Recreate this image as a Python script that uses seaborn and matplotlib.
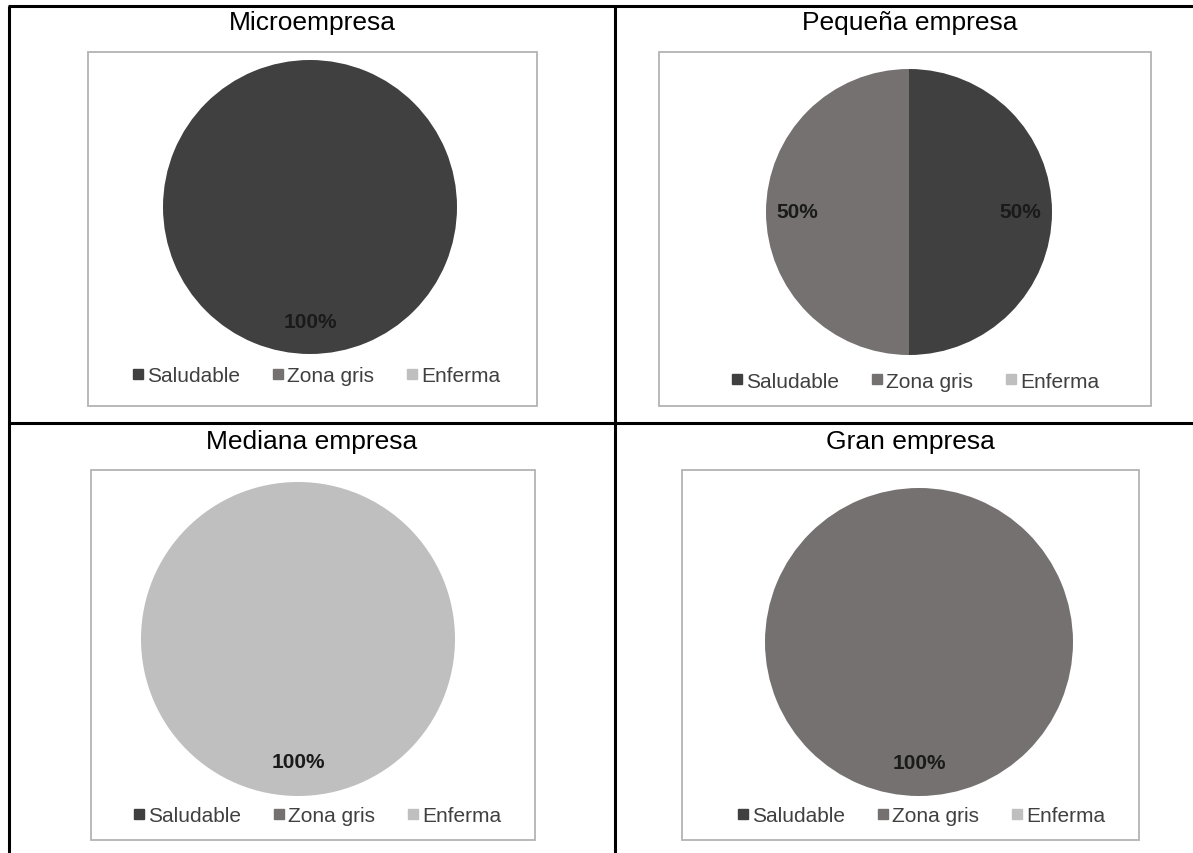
import matplotlib
matplotlib.use("Agg")
import matplotlib.pyplot as plt
from matplotlib.lines import Line2D
from matplotlib.patches import Rectangle
import pandas as pd
import seaborn as sns

# data (percent of firms per health state)
companies = ["Microempresa", "Pequeña empresa", "Mediana empresa", "Gran empresa"]
states = ["Saludable", "Zona gris", "Enferma"]
saludable = [100, 50, 0, 0]
zona_gris = [0, 50, 0, 100]
enferma = [0, 0, 100, 0]

df = pd.DataFrame({"Saludable": saludable, "Zona gris": zona_gris, "Enferma": enferma},
                  index=companies)

sns.set_theme(style="white")
plt.rcParams["font.family"] = ["Liberation Sans", "DejaVu Sans"]
palette = sns.color_palette(["#404040", "#767171", "#bfbfbf"])

W, H = 1193, 854
fig = plt.figure(figsize=(W / 100, H / 100), dpi=100)
fig.patch.set_facecolor("white")


def fx(x):
    return x / W


def fy(y):
    return 1 - y / H


# layout per cell: title pos, panel box, pie centre/radius, legend pos
cells = [
    dict(title=(312, 23), panel=(88, 53, 537, 407), pie=(310, 208, 147), legend=(315, 377)),
    dict(title=(910, 23), panel=(659, 53, 1151, 407), pie=(909, 213, 143), legend=(914, 382)),
    dict(title=(312, 442), panel=(91, 471, 535, 841), pie=(298, 640, 157), legend=(316, 817)),
    dict(title=(910, 442), panel=(682, 471, 1139, 841), pie=(919, 643, 154), legend=(920, 817)),
]

# table grid lines
grid = [((8, 7), (1193, 7)), ((9, 7), (9, 854)), ((615, 7), (615, 854)), ((8, 424), (1193, 424))]
for (x0, y0), (x1, y1) in grid:
    fig.add_artist(Line2D([fx(x0), fx(x1)], [fy(y0), fy(y1)], transform=fig.transFigure,
                          color="black", lw=2.2, solid_capstyle="butt"))

for name, cell in zip(companies, cells):
    tx, ty = cell["title"]
    fig.text(fx(tx), fy(ty), name, ha="center", va="center", fontsize=19, color="black")

    x0, y0, x1, y1 = cell["panel"]
    fig.add_artist(Rectangle((fx(x0), fy(y1)), (x1 - x0) / W, (y1 - y0) / H,
                             transform=fig.transFigure, fill=False,
                             edgecolor="#b3b3b3", lw=1.3))

    cx, cy, r = cell["pie"]
    ax = fig.add_axes([fx(cx - r), fy(cy + r), 2 * r / W, 2 * r / H])
    values = df.loc[name, states].to_numpy()
    wedges, _, autotexts = ax.pie(
        values, colors=palette, startangle=90, counterclock=False,
        autopct=lambda p: f"{p:.0f}%" if p > 0 else "", pctdistance=0.78,
        wedgeprops=dict(linewidth=0),
        textprops=dict(fontsize=15, fontweight="bold", color="#1a1a1a"),
    )
    for w, v in zip(wedges, values):
        if v == 0:
            w.set_visible(False)
    ax.set_xlim(-1, 1)
    ax.set_ylim(-1, 1)
    ax.axis("off")

    handles = [Line2D([], [], marker="s", linestyle="none", markersize=7,
                      markerfacecolor=c, markeredgecolor=c) for c in palette]
    lx, ly = cell["legend"]
    fig.legend(handles, states, loc="center", bbox_to_anchor=(fx(lx), fy(ly)),
               ncol=3, frameon=False, fontsize=15, handletextpad=0.05,
               columnspacing=1.4, handlelength=0.8, labelcolor="#404040",
               borderpad=0, borderaxespad=0)

fig.savefig("out.png", dpi=100)
